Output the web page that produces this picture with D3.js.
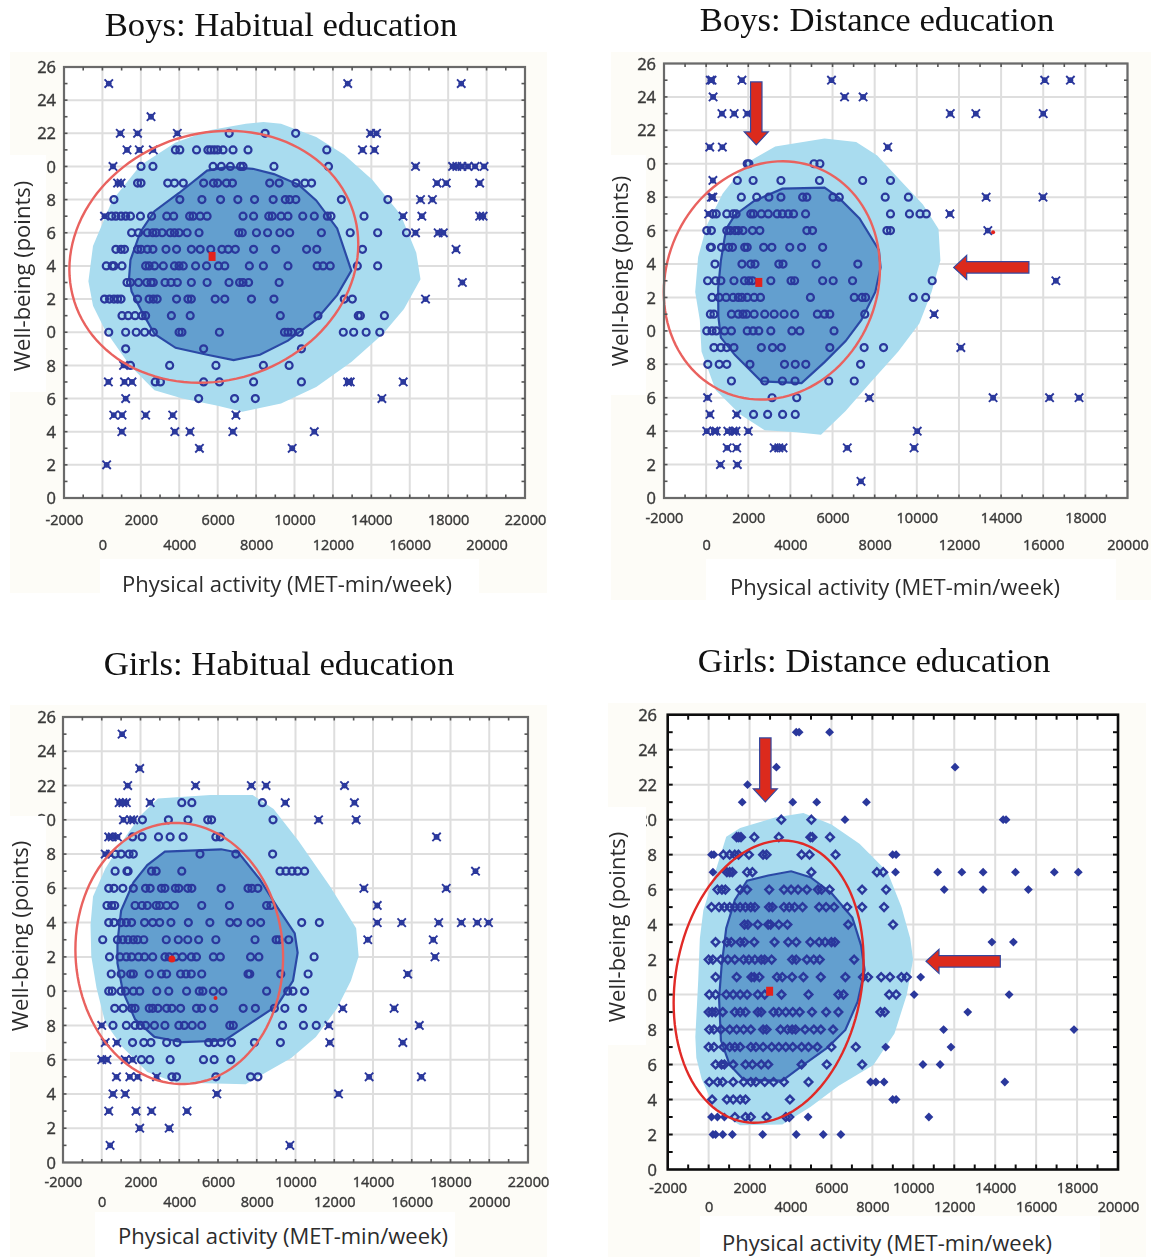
<!DOCTYPE html>
<html><head><meta charset="utf-8">
<script src="https://cdnjs.cloudflare.com/ajax/libs/d3/7.8.5/d3.min.js"></script>
<style>html,body{margin:0;padding:0;background:#fff}svg{display:block}</style>
</head><body><svg id="c" width="1151" height="1257"></svg>
<script>
// rows: [well-being, [physical activity values]]
const boysHabitualRows = [
[25,[330,12770,18680]],[23,[2530]],
[22,[930,1830,3900,13960,14270,6600,8470,10060]],
[21,[1280,1920,2650,3800,13540,14160,4030,4900,5490,5640,5820,6000,6280,6800,7580,11680]],
[20,[550,2010,2630,16300,18230,18450,18720,19030,19400,19870,5760,6190,6660,7190,7320,8930,11770]],
[19,[790,970,1830,2010,17420,17900,19640,3400,3750,4210,5270,5780,6000,6460,6770,8710,9200,10080,10540,10890]],
[18,[600,16560,17180,4030,5180,6150,7050,7920,8890,9520,9750,10070,12440,14860]],
[17,[110,15650,16630,19640,19820,480,700,970,1210,1460,1980,2560,3350,3710,4540,4720,5090,5450,7320,7870,8660,8840,9300,9660,10430,11030,11710,11900,13620]],
[16,[16300,17750,1520,1880,2340,2620,2800,3110,3530,3750,3990,4410,5030,7100,7280,8020,8600,9240,9750,11400,12900,14330,15830,17480]],
[15,[18410,700,970,1150,1830,2010,2340,2630,3310,3860,4630,5090,5640,6220,6550,6920,7870,9020,10630,11160,13540]],
[14,[200,510,600,1020,2250,2430,2710,3170,3750,3990,4210,4850,5420,6040,6370,7650,8380,9660,11180,11490,11860,13270,14330]],
[13,[18740,1280,1460,1880,2310,2530,2650,3260,3570,3900,4630,5450,6590,7140,7320,7610,9200]],
[12,[16820,110,370,600,790,970,1830,2430,2650,2850,3860,4450,4630,5870,6370,7760,8930,12590,13010]],
[11,[1020,1340,1700,2070,2250,3590,4570,9260,11220,13320,13430,14680]],
[10,[330,1210,1760,2200,2650,3990,4140,6090,9480,9660,9850,10250,12540,13080,13730,14440]],
[9,[1210,5270,10360]],[8,[1100,1460,3500,5910,8380,9720]],
[7,[310,1150,1540,12770,12900,15660,2750,3020,5270,6090,7870,10360]],
[6,[1210,14550,5010,6880,7960]],[5,[590,1020,2250,3660,6950]],
[4,[1010,3770,4560,6790,11030]],[3,[5050,9880]],[2,[220]]];
const boysHabitualOuter = [[-730,13.08],[-490,15.2],[510,17.95],[1980,20.07],[3810,21.45],[5640,22.2],[7470,22.57],[8380,22.68],[9300,22.57],[11130,21.77],[12590,20.7],[14050,19.2],[15520,17.1],[16340,14.8],[16560,13.2],[15700,11.4],[14600,9.9],[12960,8.2],[11130,6.7],[9300,5.7],[7280,5.2],[6000,5.57],[4170,6.0],[2710,6.5],[1430,8.0],[150,10.1],[-490,11.6]];
const boysHabitualInner = [[1390,13.3],[1460,14.36],[1980,16.05],[2710,17.3],[3990,18.4],[5450,19.75],[6550,19.97],[7830,19.86],[8930,19.54],[10210,18.9],[11130,17.95],[12220,16.26],[12960,13.72],[12220,12.24],[11130,10.76],[9660,9.49],[8200,8.64],[6830,8.32],[5450,8.64],[3810,9.06],[2710,9.9],[2070,11.2],[1520,12.45]];
const boysHabitualEllipse = [5800,14.55,7520,7.6,0.1];
const boysHabitualMedians = [[5710,14.57,1]];

const boysDistanceRows = [
[25,[200,280,1700,5950,16070,17290]],[24,[330,6570,7450]],
[23,[750,1330,1950,11590,12800,16000]],[21,[170,770,8620]],
[20,[1950,2030,5120,5400]],[19,[320,1480,2230,3550,5380,7430,8750]],
[18,[250,320,13290,15990,1670,2400,2980,3550,4580,4780,6020,6320,8500,9600]],
[17,[11570,120,320,480,980,1280,1420,2120,2250,2620,2950,3370,3620,3900,4150,4720,8750,9650,10150,10450]],
[16,[13370,30,250,980,1150,1370,1530,1750,2200,2550,4780,5050,8580,8750]],
[15,[200,250,730,1070,1250,1830,1950,2730,3120,3970,4530,5530]],
[14,[420,1700,2120,2320,3450,3650,5220,7200]],
[13,[16600,70,450,700,1320,1820,2030,2200,3070,4030,4200,5530,6030,6950,10730]],
[12,[280,620,950,1280,1530,1700,1950,2280,2580,4950,7030,7400,7570,9830,10420]],
[11,[10820,200,370,1200,1530,1750,1920,2280,2780,3230,3700,4200,5280,5620,5870,7530]],
[10,[30,280,480,870,1200,1950,2230,2500,3070,4070,4450,6070]],
[9,[12090,370,700,980,1320,2620,3150,3570,5870,7500,8420]],
[8,[80,620,980,2080,3720,4230,4730,7330]],
[7,[1200,2780,3620,4220,5820,7030]],
[6,[70,7750,13620,16300,17700,3130,4300]],
[5,[180,1450,2250,2920,3630,4230]],
[4,[30,370,480,1030,1280,1420,2000,10020]],
[3,[1000,1450,3230,3450,3650,6700,9870]],[2,[680,1480]],[1,[7350]]];
const boysDistanceOuter = [[-520,12.33],[-380,14.42],[30,16.31],[780,18.2],[1950,20.08],[3280,21.03],[5620,21.51],[7120,21.3],[8120,20.5],[9120,19.14],[10290,17.57],[11030,16.1],[11120,14.21],[10700,12.33],[10120,10.44],[9120,8.76],[7780,6.88],[6620,5.2],[5450,3.79],[4280,3.94],[2780,4.05],[1620,4.99],[450,6.46],[-220,8.76],[-300,10.65]];
const boysDistanceInner = [[570,12.54],[700,14.21],[950,16.1],[1370,16.94],[2280,17.78],[3620,18.51],[5620,18.57],[6280,17.99],[7280,16.73],[8200,14.84],[8280,13.79],[8030,12.33],[7370,10.65],[6620,9.39],[5620,8.13],[4530,6.88],[2620,6.98],[1370,8.55],[700,9.6],[580,10.86]];
const boysDistanceEllipse = [3120,13.02,5130,7.13,0.1];
const boysDistanceMedians = [[2500,12.9,1],[13620,15.9,0]];
const boysDistanceArrows = [[2380,24.9,2380,21.13],[15320,13.8,11750,13.8]];

const girlsHabitualRows = [
[25,[1050]],[23,[1960]],[22,[1340,4840,7720,8480,12530]],
[21,[900,1270,2500,9470,13040,1090,4130,4650,8290]],
[20,[11190,13130,1120,1490,1650,2100,3440,4450,5470,5670,8840]],
[19,[360,810,17280,540,1590,2080,2930,3530,4200,5890,6120]],
[18,[180,450,690,1000,1410,1630,5070,6920,8820]],
[17,[690,1300,1360,2570,2810,4130,9200,9510,9820,10110,10470,19290]],
[16,[13530,17780,360,630,1090,1630,2260,2500,3080,3260,3800,3980,4440,4650,6160,7550,7750,8060]],
[15,[14220,270,510,670,1720,2080,2350,2810,2990,3350,3750,5160,6590,8510,8730]],
[14,[14220,15480,17390,18560,19380,19960,360,630,1000,1270,1540,2210,2630,2990,3570,4470,5580,6610,7010,7700,8200,10320,11230]],
[13,[13730,17110,50,810,1090,1360,1630,1850,2170,3330,3950,4440,5000,5890,7910,9000,9150,9650]],
[12,[17200,400,940,1270,1540,1900,2210,2630,3260,3480,3800,4170,4620,4890,5760,6120,7680,8110,10960]],
[11,[15790,490,1000,1490,1630,2450,3080,3350,4070,4350,4620,5160,7550,7640,9240,10650]],
[10,[360,540,1000,1230,1630,1960,2840,3460,4380,5030,5220,5760,6250,8510,9600,9870,10470]],
[9,[12440,15090,670,1100,1540,1720,2450,2630,2900,3350,3620,4070,4890,5160,5780,7300,7930,8910,9450,10360]],
[8,[0,11720,16390,580,1270,1720,1990,2260,2720,3260,3980,4260,4670,5160,6610,6790,9330,10410,11070]],
[7,[180,11770,15540,780,1590,2170,2540,3350,3890,5520,5800,6160,6700,7880,9220]],
[6,[0,270,1210,1590,2050,2480,3530,5250,5800,6660]],
[5,[760,1450,1850,8060,13800,16500,2830,3620,3860,5890,7680]],
[4,[580,1210,5940,12220]],[3,[360,1770,2570,4400]],[2,[1960,3480]],[1,[430,9710]]];
const girlsHabitualOuter = [[-580,13.88],[-450,15.52],[180,17.15],[1090,18.79],[1990,20.23],[2900,21.25],[5610,21.45],[7790,21.45],[8870,20.63],[10140,18.79],[11770,16.13],[13130,13.67],[13260,12.04],[12860,10.6],[12130,8.97],[11050,7.33],[9780,6.1],[8510,5.28],[7430,4.56],[3800,4.67],[2350,5.28],[1090,6.71],[180,8.15],[-270,10.19],[-540,12.04]];
const girlsHabitualInner = [[810,12.86],[1000,14.7],[1630,16.34],[2350,17.36],[3260,18.14],[6160,18.28],[7060,18.08],[8150,16.54],[9060,14.9],[9960,13.37],[10110,12.24],[9870,10.6],[9060,9.17],[7430,7.94],[6340,7.12],[4170,7.02],[2720,7.33],[1720,8.35],[1090,9.99],[810,11.63]];
const girlsHabitualEllipse = [4000,12.2,5360,7.62,-0.03];
const girlsHabitualMedians = [[3620,11.87,2],[5870,9.6,0]];

const girlsDistanceRows = [
[25,[4280,4420,5910]],[23,[3310,12040]],[22,[1900]],[21,[1640,4110,5280,7710]],
[20,[3550,5020,6660,14390,14530]],[19,[1370,1470,1580,2230,3430,4970,5070,5930]],
[18,[140,260,720,1030,1280,1460,1970,2660,2830,4540,4930,6200,8990,9160]],
[17,[210,890,1030,1160,1880,2140,5020,8220,8530,9130,11190,12370,13410,14990,16890,18060]],
[16,[430,650,820,1540,1880,2960,3680,4030,4370,4800,5340,5520,5910,7500,8670,11510,13410,15620]],
[15,[140,510,770,1030,1280,1540,1800,2060,2260,2950,3120,3680,3940,4200,4590,5400,5740,6130,6770,7500,8570]],
[14,[1750,1920,2400,2910,3030,3430,3850,6820,9010]],
[13,[340,890,1110,1540,1750,2230,3220,3890,4280,4970,5400,5690,6000,6170,13840,14890]],
[12,[0,210,600,940,1280,1710,1970,2260,2570,2740,3080,4080,4280,4800,5140,5430,7110]],
[11,[340,1370,2090,2230,2480,3340,3600,4080,4630,5480,6680,7540,7790,8430,8860,9420,9680,10360]],
[10,[30,340,860,1200,1540,1880,2400,2740,3560,4880,6340,6590,8820,9160,10040,14680]],
[9,[0,170,340,690,1280,1540,1800,2400,2570,3170,3430,3770,4110,4450,5050,5740,6340,8390,8600,12660]],
[8,[30,260,600,1030,1370,1710,2060,2660,2830,3510,3850,4080,4250,4710,5140,5480,6080,11480,17850]],
[7,[0,260,720,1030,1280,1540,2060,2310,2660,3080,3430,3770,4110,4540,4880,5310,6000,7190,8650,11840]],
[6,[340,630,770,1200,1800,2140,2570,2910,4540,5770,7500,10470,11310]],
[5,[30,430,690,1200,1710,2060,2310,2740,3170,3680,4880,7910,8170,8570,14470]],
[4,[170,890,1200,1540,1800,3970,8990,9160]],
[3,[140,430,770,1280,1800,2060,2830,3770,3940,4860,10760]],
[2,[210,340,690,1160,2640,4280,5600,6460]]];
const girlsDistanceOuter = [[-650,7.58],[-510,10.79],[-430,13.2],[-260,14.8],[430,17.41],[860,19.02],[1540,19.52],[3250,20.12],[4630,20.38],[6000,19.72],[7370,18.62],[8740,17.01],[9420,15.0],[9850,13.2],[9990,12.0],[9680,9.99],[9080,7.78],[8050,5.98],[6340,4.77],[4970,3.57],[3600,2.57],[1540,2.53],[340,3.37],[-340,5.18],[-600,6.38]];
const girlsDistanceInner = [[510,9.79],[630,11.6],[860,13.8],[1280,15.41],[1880,16.51],[2910,16.81],[4030,17.05],[4970,16.71],[6000,15.81],[7020,14.4],[7450,12.8],[7620,11.39],[7280,9.59],[6680,7.98],[5820,6.98],[4630,5.98],[3600,5.08],[1710,5.14],[1030,5.98],[600,7.38]];
const girlsDistanceEllipse = [2930,10.74,4640,8.07,0.15];
const girlsDistanceMedians = [[2980,10.19,1]];
const girlsDistanceArrows = [[2770,24.67,2770,21.02],[14250,11.9,10620,11.9]];

const yTicks = d3.range(0,27,2);
const xTitle = "Physical activity (MET-min/week)";
const yTitle = "Well-being (points)";

const panels = [
 {title:"Boys: Habitual education",tx:281,ty:36,rows:boysHabitualRows,outer:boysHabitualOuter,inner:boysHabitualInner,ell:boysHabitualEllipse,med:boysHabitualMedians,arrows:[],
  xd:[-2000,22000],fx:[64,525],fy:[67,498],bg:[10,52,537,541],yp:[10,155,36,237],xp:[100,559,379,34],labR:56,row1:520,row2:545,xt:[287,592],yt:[23,276],kind:"star",frame:"#6a6a6a",fw:2.2,ellC:"#e9625f"},
 {title:"Boys: Distance education",tx:877,ty:31,rows:boysDistanceRows,outer:boysDistanceOuter,inner:boysDistanceInner,ell:boysDistanceEllipse,med:boysDistanceMedians,arrows:boysDistanceArrows,
  xd:[-2000,20000],fx:[664,1127.5],fy:[63.5,498],bg:[611,52,540,548],yp:[611,155,35,240],xp:[706,559,410,41],labR:656,row1:518,row2:545,xt:[895,595],yt:[621,271],kind:"star",frame:"#6a6a6a",fw:2.2,ellC:"#e9625f"},
 {title:"Girls: Habitual education",tx:279,ty:675,rows:girlsHabitualRows,outer:girlsHabitualOuter,inner:girlsHabitualInner,ell:girlsHabitualEllipse,med:girlsHabitualMedians,arrows:[],
  xd:[-2000,22000],fx:[63,528],fy:[717,1162.5],bg:[10,705,537,552],yp:[10,816,36,236],xp:[95,1212,360,45],labR:56,row1:1182,row2:1202,xt:[283,1244],yt:[21,936],kind:"star",frame:"#6a6a6a",fw:2.2,ellC:"#e9625f"},
 {title:"Girls: Distance education",tx:874,ty:672,rows:girlsDistanceRows,outer:girlsDistanceOuter,inner:girlsDistanceInner,ell:girlsDistanceEllipse,med:girlsDistanceMedians,arrows:girlsDistanceArrows,
  xd:[-2000,20000],fx:[667.7,1118],fy:[714.7,1169.5],bg:[608,703,538,554],yp:[608,807,38,238],xp:[700,1216,400,41],labR:657,row1:1188,row2:1207,xt:[887,1250.5],yt:[618,927],kind:"diamond",frame:"#111",fw:2.6,ellC:"#e12a28"}
];

const svg = d3.select("#c");
const defs = svg.append("defs");
defs.append("filter").attr("id","soft").attr("x","-5%").attr("y","-5%").attr("width","110%").attr("height","110%")
  .append("feGaussianBlur").attr("stdDeviation",0.6);
svg.append("rect").attr("width",1151).attr("height",1257).attr("fill","#fff");

panels.forEach(p=>{
  const root = svg.append("g");
  root.append("rect").attr("x",p.bg[0]).attr("y",p.bg[1]).attr("width",p.bg[2]).attr("height",p.bg[3]).attr("fill","#fdfcf7");
  const g = root.append("g").attr("filter","url(#soft)");
  const x = d3.scaleLinear().domain(p.xd).range(p.fx);
  const y = d3.scaleLinear().domain([0,26]).range([p.fy[1],p.fy[0]]);
  const xTicks = d3.range(p.xd[0],p.xd[1]+1,2000);
  const upper = xTicks.filter((d,i)=>i%2===0);
  const lower = xTicks.filter((d,i)=>i%2===1);
  g.append("rect").attr("x",p.fx[0]).attr("y",p.fy[0]).attr("width",p.fx[1]-p.fx[0]).attr("height",p.fy[1]-p.fy[0]).attr("fill","#fff");
  // grid
  const grid = g.append("g").attr("stroke","#dedede").attr("stroke-width",2);
  grid.selectAll(".v").data(xTicks).join("line").attr("x1",d=>x(d)).attr("x2",d=>x(d)).attr("y1",p.fy[0]).attr("y2",p.fy[1]);
  grid.selectAll(".h").data(yTicks).join("line").attr("x1",p.fx[0]).attr("x2",p.fx[1]).attr("y1",d=>y(d)).attr("y2",d=>y(d));
  // hulls
  const line = d3.line().x(d=>x(d[0])).y(d=>y(d[1])).curve(d3.curveLinearClosed);
  g.append("path").attr("d",line(p.outer)).attr("fill","#a9dcef");
  g.append("path").attr("d",line(p.inner)).attr("fill","#649fcf").attr("stroke","#2c4aa6").attr("stroke-width",2.2);
  // points
  const hullPx = p.outer.map(d=>[x(d[0]),y(d[1])]);
  const pts = p.rows.flatMap(r=>r[1].map(v=>({x:x(v),y:y(r[0])})));
  const inside = pts.filter(d=>d3.polygonContains(hullPx,[d.x,d.y]));
  const outside = pts.filter(d=>!d3.polygonContains(hullPx,[d.x,d.y]));
  const col = "#2b379c";
  if(p.kind==="star"){
    g.selectAll(".pin").data(inside).join("circle").attr("cx",d=>d.x).attr("cy",d=>d.y).attr("r",3.5).attr("fill","none").attr("stroke",col).attr("stroke-width",2.2);
    g.selectAll(".pout").data(outside).join("path").attr("transform",d=>`translate(${d.x},${d.y})`)
      .attr("d","M-4.2,-4.2L4.2,4.2M4.2,-4.2L-4.2,4.2").attr("stroke",col).attr("stroke-width",1.9).attr("fill","none");
    g.selectAll(".pout2").data(outside).join("circle").attr("cx",d=>d.x).attr("cy",d=>d.y).attr("r",2.9).attr("fill",col);
  } else {
    const dia = d3.symbol().type(d3.symbolDiamond2).size(38);
    const diaFull = d3.symbol().type(d3.symbolDiamond2).size(50);
    g.selectAll(".pin").data(inside).join("path").attr("transform",d=>`translate(${d.x},${d.y})`).attr("d",dia()).attr("fill","none").attr("stroke",col).attr("stroke-width",2.4);
    g.selectAll(".pout").data(outside).join("path").attr("transform",d=>`translate(${d.x},${d.y})`).attr("d",diaFull()).attr("fill",col);
  }
  // ellipse
  const [cx,cy,rx,ry,r] = p.ell;
  const ts = d3.range(0,2*Math.PI,Math.PI/60);
  g.append("path").attr("d",d3.line().x(t=>x(cx+rx*Math.cos(t))).y(t=>y(cy+ry*(r*Math.cos(t)+Math.sqrt(1-r*r)*Math.sin(t)))).curve(d3.curveLinearClosed)(ts))
    .attr("fill","none").attr("stroke",p.ellC).attr("stroke-width",2.4);
  // medians
  p.med.forEach(m=>{
    if(m[2]===1) g.append("rect").attr("x",x(m[0])-3.5).attr("y",y(m[1])-4.5).attr("width",7).attr("height",9).attr("fill","#e3231f");
    else g.append("circle").attr("cx",x(m[0])).attr("cy",y(m[1])).attr("r",m[2]===2?3.5:2).attr("fill","#e3231f");
  });
  // frame + minor ticks
  g.append("rect").attr("x",p.fx[0]).attr("y",p.fy[0]).attr("width",p.fx[1]-p.fx[0]).attr("height",p.fy[1]-p.fy[0]).attr("fill","none").attr("stroke",p.frame).attr("stroke-width",p.fw);
  const dark = p.frame==="#111";
  const tick = g.append("g").attr("stroke",dark?"#111":"#555").attr("stroke-width",dark?2:1.6);
  const tl = dark?5:3.5;
  const mx = d3.range(p.xd[0]+1000,p.xd[1],1000), my = d3.range(1,26);
  [p.fy[0],p.fy[1]].forEach((yy,k)=>tick.selectAll(".tx"+k).data(mx).join("line").attr("x1",d=>x(d)).attr("x2",d=>x(d)).attr("y1",yy).attr("y2",yy+(k?-tl:tl)));
  [p.fx[0],p.fx[1]].forEach((xx,k)=>tick.selectAll(".ty"+k).data(my).join("line").attr("y1",d=>y(d)).attr("y2",d=>y(d)).attr("x1",xx).attr("x2",xx+(k?-tl:tl)));
  // axes labels
  const fam = "'Open Sans','DejaVu Sans',sans-serif";
  const yAxis = d3.axisLeft(y).tickValues(yTicks).tickSize(0).tickPadding(0).tickFormat(d3.format("d"));
  const ya = g.append("g").attr("transform",`translate(${p.labR},0)`).call(yAxis);
  ya.select(".domain").remove();
  ya.selectAll("text").attr("font-family",fam).attr("font-size",16.5).attr("fill","#3a3a3a").attr("dy","0.34em").attr("stroke","#3a3a3a").attr("stroke-width",0.4);
  [[upper,p.row1],[lower,p.row2]].forEach(([vals,yy])=>{
    const xa = g.append("g").attr("transform",`translate(0,${yy})`).call(d3.axisBottom(x).tickValues(vals).tickSize(0).tickPadding(0).tickFormat(d=>String(d)));
    xa.select(".domain").remove();
    xa.selectAll("text").attr("font-family",fam).attr("font-size",14.5).attr("fill","#3a3a3a").attr("dy","0.34em").attr("y",0).attr("stroke","#3a3a3a").attr("stroke-width",0.4);
  });
  // white patches that lie over the axis label column, as in the figure
  root.append("rect").attr("x",p.yp[0]).attr("y",p.yp[1]).attr("width",p.yp[2]).attr("height",p.yp[3]).attr("fill","#fff");
  root.append("rect").attr("x",p.xp[0]).attr("y",p.xp[1]).attr("width",p.xp[2]).attr("height",p.xp[3]).attr("fill","#fff");
  // arrows
  p.arrows.forEach(a=>{
    const X0=x(a[0]),Y0=y(a[1]),X1=x(a[2]),Y1=y(a[3]);
    const L=Math.hypot(X1-X0,Y1-Y0),ux=(X1-X0)/L,uy=(Y1-Y0)/L,nx=-uy,ny=ux,head=13,hw=12,sw=5.7;
    const P=(al,s)=>[X0+ux*al+nx*s,Y0+uy*al+ny*s];
    root.append("path").attr("filter","url(#soft)").attr("d",d3.line()([P(0,sw),P(L-head,sw),P(L-head,hw),P(L,0),P(L-head,-hw),P(L-head,-sw),P(0,-sw)])+"Z")
      .attr("fill","#dc2c1c").attr("stroke","#34479e").attr("stroke-width",1.2);
  });
  // titles
  const t = svg.append("g").attr("fill","#2c2c2c").attr("font-family",fam).attr("font-size",22);
  t.append("text").attr("x",p.xt[0]).attr("y",p.xt[1]).attr("text-anchor","middle").text(xTitle);
  t.append("text").attr("transform",`translate(${p.yt[0]+7},${p.yt[1]}) rotate(-90)`).attr("text-anchor","middle").text(yTitle);
  svg.append("text").attr("x",p.tx).attr("y",p.ty).attr("text-anchor","middle").attr("font-family","'Liberation Serif',serif").attr("font-size",34.7).attr("fill","#111").text(p.title);
});
</script></body></html>
